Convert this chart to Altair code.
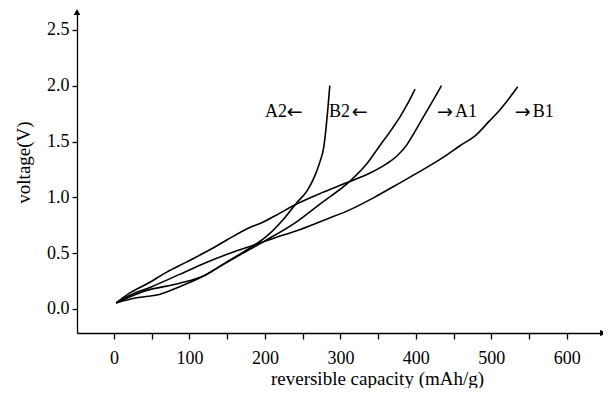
import altair as alt
import pandas as pd

# axis ranges and ticks
x_domain = [-49, 648]
y_domain = [-0.215, 2.66]
x_ticks = [0, 50, 100, 150, 200, 250, 300, 350, 400, 450, 500, 550, 600]
y_ticks = [0, 0.25, 0.5, 0.75, 1.0, 1.25, 1.5, 1.75, 2.0, 2.25, 2.5]

# curves (capacity mAh/g, voltage V)
a1_x = [3, 20, 45, 70, 96, 127, 150, 180, 195, 215, 242, 275, 308, 340, 361, 375, 388, 398, 410, 423, 434]
a1_y = [0.055, 0.14, 0.23, 0.33, 0.42, 0.53, 0.62, 0.73, 0.77, 0.84, 0.94, 1.04, 1.13, 1.22, 1.30, 1.37, 1.47, 1.58, 1.72, 1.87, 2.0]

b1_x = [3, 20, 50, 87, 120, 150, 180, 210, 246, 280, 313, 345, 379, 410, 432, 458, 480, 497, 511, 524, 535]
b1_y = [0.055, 0.12, 0.20, 0.31, 0.41, 0.49, 0.56, 0.63, 0.71, 0.80, 0.89, 1.00, 1.13, 1.25, 1.34, 1.46, 1.56, 1.68, 1.78, 1.89, 1.99]

a2_x = [3, 40, 87, 120, 149, 176, 202, 224, 242, 256, 266, 273, 278, 281, 283.5, 286]
a2_y = [0.055, 0.16, 0.23, 0.30, 0.42, 0.53, 0.65, 0.80, 0.95, 1.06, 1.19, 1.32, 1.45, 1.62, 1.80, 2.0]

b2_x = [3, 30, 60, 87, 120, 140, 171, 200, 242, 275, 312, 335, 352, 367, 379, 390, 399]
b2_y = [0.055, 0.10, 0.13, 0.20, 0.30, 0.38, 0.50, 0.61, 0.78, 0.95, 1.14, 1.30, 1.46, 1.60, 1.72, 1.85, 1.97]

# curve labels: name text and arrow glyph placed separately
ann_name = ["A2", "B2", "A1", "B1"]
ann_name_x = [200, 285, 452, 555]
ann_arrow = ["\u2190", "\u2190", "\u2192", "\u2192"]
ann_arrow_x = [229, 315, 428, 531]
ann_y = [1.76, 1.76, 1.76, 1.76]

rows = []
for name, xs, ys in [("A1", a1_x, a1_y), ("B1", b1_x, b1_y), ("A2", a2_x, a2_y), ("B2", b2_x, b2_y)]:
    for i, (xv, yv) in enumerate(zip(xs, ys)):
        rows.append({"curve": name, "cap": xv, "volt": yv, "i": i})
df = pd.DataFrame(rows)
ann_names = pd.DataFrame({"t": ann_name, "cap": ann_name_x, "volt": ann_y})
ann_arrows = pd.DataFrame({"t": ann_arrow, "cap": ann_arrow_x, "volt": ann_y})
arrows = pd.DataFrame({"cap": [x_domain[0], x_domain[1]], "volt": [y_domain[1], y_domain[0]],
                       "shape": ["triangle-up", "triangle-right"]})

FONT = "Liberation Serif"

xscale = alt.Scale(domain=x_domain, nice=False, zero=False)
yscale = alt.Scale(domain=y_domain, nice=False, zero=False)

xaxis = alt.Axis(values=x_ticks, format="d",
                 labelExpr="datum.value % 100 == 0 ? datum.label : ''",
                 title="reversible capacity (mAh/g)", grid=False,
                 tickSize=6, tickColor="black", domainColor="black", domainWidth=1.3, tickWidth=1.3,
                 labelFont=FONT, labelFontSize=18, labelColor="black", labelPadding=10,
                 titleFont=FONT, titleFontSize=19, titleFontWeight="normal", titleColor="black",
                 titleX=300, titleY=51, titleBaseline="alphabetic", titleAlign="center")
yaxis = alt.Axis(values=y_ticks, format=".1f",
                 labelExpr="datum.value % 0.5 == 0 ? datum.label : ''",
                 title="voltage(V)", grid=False,
                 tickSize=5, tickColor="black", domainColor="black", domainWidth=1.3, tickWidth=1.3,
                 labelFont=FONT, labelFontSize=18, labelColor="black", labelPadding=3,
                 titleFont=FONT, titleFontSize=19, titleFontWeight="normal", titleColor="black",
                 titleX=-54, titleY=150, titleBaseline="middle", titleAlign="center", titleAngle=270)

lines = alt.Chart(df).mark_line(color="black", strokeWidth=1.6, interpolate="monotone").encode(
    x=alt.X("cap:Q", scale=xscale, axis=xaxis),
    y=alt.Y("volt:Q", scale=yscale, axis=yaxis),
    detail="curve:N",
    order="i:Q",
)

names = alt.Chart(ann_names).mark_text(font=FONT, fontSize=18, color="black", align="left", baseline="middle").encode(
    x=alt.X("cap:Q", scale=xscale),
    y=alt.Y("volt:Q", scale=yscale),
    text="t:N",
)

arrow_glyphs = alt.Chart(ann_arrows).mark_text(font="DejaVu Sans", fontSize=19, color="black", align="left", baseline="middle").encode(
    x=alt.X("cap:Q", scale=xscale),
    y=alt.Y("volt:Q", scale=yscale),
    text="t:N",
)

arrowheads = alt.Chart(arrows).mark_point(filled=True, color="black", size=45, opacity=1).encode(
    x=alt.X("cap:Q", scale=xscale),
    y=alt.Y("volt:Q", scale=yscale),
    shape=alt.Shape("shape:N", scale=None),
)

chart = alt.layer(lines, names, arrow_glyphs, arrowheads).properties(
    width=526, height=321,
    autosize=alt.AutoSizeParams(type="none"),
    padding={"left": 69, "top": 4, "right": 0, "bottom": 55},
    background="white",
).configure_view(stroke=None)

chart.save("out.html", embed_options={"renderer": "svg", "actions": False})
